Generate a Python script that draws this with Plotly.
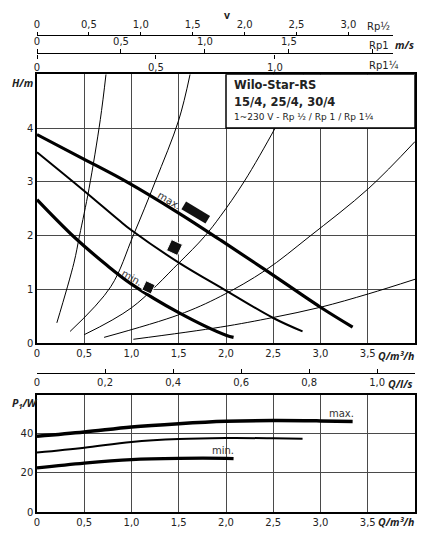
### Curvas características Wilo-Star-RS (H/Q y P1/Q) ###

import plotly.graph_objects as go

# Curvas de la bomba H(Q): velocidad max., intermedia y min.
q_max = [0, 0.5, 0.95, 1.5, 1.94, 2.42, 3.0, 3.34]
h_max = [3.88, 3.42, 3.0, 2.42, 1.92, 1.36, 0.67, 0.30]
q_mid = [0, 0.5, 0.865, 1.0, 1.5, 2.0, 2.5, 2.81]
h_mid = [3.55, 2.83, 2.29, 2.1, 1.5, 0.98, 0.47, 0.22]
q_min = [0, 0.39, 0.74, 1.0, 1.5, 2.0, 2.08]
h_min = [2.67, 1.98, 1.45, 1.1, 0.57, 0.15, 0.11]

# Curvas de la instalación (líneas finas)
sys1_q = [0.21, 0.39, 0.45, 0.55, 0.67, 0.73]
sys1_h = [0.38, 1.49, 2.0, 2.87, 4.16, 5.0]
sys2_q = [0.35, 0.78, 1.02, 1.25, 1.5, 1.62]
sys2_h = [0.22, 1.05, 2.01, 3.0, 4.15, 5.0]
sys3_q = [0.5, 1.0, 1.5, 1.77, 1.94, 2.19, 2.52, 2.82]
sys3_h = [0.16, 0.66, 1.49, 1.98, 2.36, 3.0, 4.0, 5.0]
sys4_q = [0.71, 1.5, 1.94, 2.42, 2.88, 3.51, 4.0]
sys4_h = [0.11, 0.53, 0.87, 1.36, 1.98, 2.88, 3.75]
sys5_q = [1.02, 1.94, 2.5, 3.0, 3.51, 4.0]
sys5_h = [0.074, 0.30, 0.48, 0.67, 0.92, 1.19]

# Marcas del selector de velocidad (max., intermedia, min.)
sel_q = [1.68, 1.455, 1.18]
sel_h = [2.43, 1.78, 1.04]

# Potencia absorbida P1(Q)
p_max_q = [0, 0.5, 1.0, 1.5, 2.0, 2.5, 3.0, 3.34]
p_max = [38.8, 41.0, 43.6, 45.3, 46.5, 46.9, 46.7, 46.4]
p_mid_q = [0, 0.5, 1.0, 1.5, 2.0, 2.5, 2.81]
p_mid = [30.5, 33.0, 35.9, 37.4, 37.9, 37.8, 37.6]
p_min_q = [0, 0.5, 1.0, 1.5, 2.0, 2.08]
p_min = [22.6, 25.1, 26.9, 27.5, 27.5, 27.4]

# Ejes y etiquetas
q_ticks = [0, 0.5, 1.0, 1.5, 2.0, 2.5, 3.0, 3.5]
q_labels = ["0", "0,5", "1,0", "1,5", "2,0", "2,5", "3,0", "3,5"]
h_ticks = [0, 1, 2, 3, 4]
p_ticks = [0, 20, 40]
ls_ticks = [0, 0.2, 0.4, 0.6, 0.8, 1.0]
ls_labels = ["0", "0,2", "0,4", "0,6", "0,8", "1,0"]
v12_ticks = [0, 0.5, 1.0, 1.5, 2.0, 2.5, 3.0]
v12_labels = ["0", "0,5", "1,0", "1,5", "2,0", "2,5", "3,0"]
v1_ticks = [0, 0.5, 1.0, 1.5, 2.0]
v1_labels = ["0", "0,5", "1,0", "1,5", " "]
v114_ticks = [0, 0.5, 1.0]
v114_labels = ["0", "0,5", "1,0"]

FONT = "DejaVu Sans"
UNIT_FONT = "Open Sans"
TXT = "#222222"
GRID = "#4a4a4a"

fig = go.Figure()

# Curvas de la instalación
for qs, hs in [(sys1_q, sys1_h), (sys2_q, sys2_h), (sys3_q, sys3_h),
               (sys4_q, sys4_h), (sys5_q, sys5_h)]:
    fig.add_trace(go.Scatter(x=qs, y=hs, mode="lines", line=dict(color="black", width=1, shape="spline"),
                             xaxis="x", yaxis="y", showlegend=False, hoverinfo="skip"))

# Curvas de la bomba
fig.add_trace(go.Scatter(x=q_max, y=h_max, mode="lines", line=dict(color="black", width=3.2, shape="spline"),
                         xaxis="x", yaxis="y", showlegend=False))
fig.add_trace(go.Scatter(x=q_mid, y=h_mid, mode="lines", line=dict(color="black", width=2, shape="spline"),
                         xaxis="x", yaxis="y", showlegend=False))
fig.add_trace(go.Scatter(x=q_min, y=h_min, mode="lines", line=dict(color="black", width=3.2, shape="spline"),
                         xaxis="x", yaxis="y", showlegend=False))

# Marcas del selector
fig.add_trace(go.Scatter(x=sel_q[:1], y=sel_h[:1], mode="markers",
                         marker=dict(symbol="line-ew", size=20, angle=31, line=dict(color="#111111", width=9)),
                         xaxis="x", yaxis="y", showlegend=False))
fig.add_trace(go.Scatter(x=sel_q[1:], y=sel_h[1:], mode="markers",
                         marker=dict(symbol="square", size=[12, 10], angle=25, color="#111111", opacity=1),
                         xaxis="x", yaxis="y", showlegend=False))

# Potencia
fig.add_trace(go.Scatter(x=p_max_q, y=p_max, mode="lines", line=dict(color="black", width=3.5, shape="spline"),
                         xaxis="x2", yaxis="y2", showlegend=False))
fig.add_trace(go.Scatter(x=p_mid_q, y=p_mid, mode="lines", line=dict(color="black", width=2, shape="spline"),
                         xaxis="x2", yaxis="y2", showlegend=False))
fig.add_trace(go.Scatter(x=p_min_q, y=p_min, mode="lines", line=dict(color="black", width=3.2, shape="spline"),
                         xaxis="x2", yaxis="y2", showlegend=False))

# Trazas vacías para que se dibujen los ejes secundarios (l/s y velocidades)
for xa, ya in [("x3", "y4"), ("x4", "y3"), ("x5", "y5"), ("x6", "y6")]:
    fig.add_trace(go.Scatter(x=[0], y=[0], mode="markers", marker=dict(opacity=0),
                             xaxis=xa, yaxis=ya, showlegend=False, hoverinfo="skip"))

tickfont = dict(family=FONT, size=10, color=TXT)
frame = dict(showline=True, linecolor="black", linewidth=1.5, mirror=True,
             showgrid=True, gridcolor=GRID, gridwidth=1, zeroline=False, ticks="",
             tickfont=tickfont)
extra_x = dict(showgrid=False, zeroline=False, tickcolor="black",
               linecolor="black", linewidth=1, tickfont=tickfont)
dummy_y = dict(range=[0, 1], visible=False, anchor="free", position=0)

# La página añade 8 px de margen, por eso la figura es 8 px más pequeña
fig.update_layout(
    width=421, height=530,
    margin=dict(l=29, r=14, t=2, b=26),
    paper_bgcolor="white", plot_bgcolor="white",
    font=dict(family=FONT, color=TXT),
    xaxis=dict(frame, domain=[0, 1], anchor="y", range=[0, 4], tickvals=q_ticks, ticktext=q_labels),
    yaxis=dict(frame, domain=[0.3361, 0.8719], anchor="x", range=[0, 5], tickvals=h_ticks),
    xaxis2=dict(frame, domain=[0, 1], anchor="y2", range=[0, 4], tickvals=q_ticks, ticktext=q_labels),
    yaxis2=dict(frame, domain=[0, 0.2331], anchor="x2", range=[0, 60], tickvals=p_ticks),
    # ejes y auxiliares (invisibles) donde se apoyan los ejes de l/s y de velocidad
    yaxis3=dict(dummy_y, domain=[0.93, 0.9488]),
    yaxis4=dict(dummy_y, domain=[0.2769, 0.32]),
    yaxis5=dict(dummy_y, domain=[0.89, 0.9118]),
    yaxis6=dict(dummy_y, domain=[0.9118, 0.93]),
    # Caudal en l/s
    xaxis3=dict(extra_x, anchor="y4", domain=[0, 1], range=[0, 4 / 3.6], side="bottom",
                showline=True, ticks="inside", ticklen=4,
                tickvals=ls_ticks, ticktext=ls_labels),
    # Velocidad Rp 1/2
    xaxis4=dict(extra_x, anchor="y3", domain=[0, 0.942], range=[0, 3.43], side="top",
                showline=True, ticks="outside", ticklen=3,
                tickvals=v12_ticks, ticktext=v12_labels),
    # Velocidad Rp 1
    xaxis5=dict(extra_x, anchor="y5", domain=[0, 0.942], range=[0, 2.12], side="top",
                showline=True, ticks="outside", ticklen=4,
                tickvals=v1_ticks, ticktext=v1_labels),
    # Velocidad Rp 1 1/4
    xaxis6=dict(extra_x, anchor="y6", domain=[0, 0.942], range=[0, 1.497], side="bottom",
                showline=False, ticks="outside", ticklen=4,
                tickvals=v114_ticks, ticktext=v114_labels),
)

# Recuadro con el nombre de la bomba
fig.add_shape(type="rect", xref="x", yref="y", x0=2.0, x1=4.0, y0=4.0, y1=5.0,
              fillcolor="white", line=dict(color="black", width=1.5), layer="above")

bold_it = dict(family=UNIT_FONT, size=10.5, color=TXT)
ann = [
    dict(x=2.06, y=4.8, xref="x", yref="y", text="<b>Wilo-Star-RS</b>", xanchor="left",
         font=dict(family=FONT, size=11.5, color=TXT)),
    dict(x=2.06, y=4.48, xref="x", yref="y", text="<b>15/4, 25/4, 30/4</b>", xanchor="left",
         font=dict(family=FONT, size=11.5, color=TXT)),
    dict(x=2.06, y=4.2, xref="x", yref="y", text="1~230 V - Rp ½ / Rp 1 / Rp 1¼", xanchor="left",
         font=dict(family=FONT, size=9, color=TXT)),
    dict(x=1.40, y=2.66, xref="x", yref="y", text="max.", textangle=31, xanchor="center",
         font=dict(family=FONT, size=10, color="#333333")),
    dict(x=1.0, y=1.22, xref="x", yref="y", text="min.", textangle=30, xanchor="center",
         font=dict(family=FONT, size=10, color="#333333")),
    dict(x=3.22, y=50.5, xref="x2", yref="y2", text="max.", xanchor="center",
         font=dict(family=FONT, size=10, color="#333333")),
    dict(x=1.97, y=31.3, xref="x2", yref="y2", text="min.", xanchor="center",
         font=dict(family=FONT, size=10, color="#333333")),
    dict(x=-0.071, y=0.8546, xref="paper", yref="paper", text="<b><i>H/m</i></b>", xanchor="left", font=bold_it),
    dict(x=-0.071, y=0.2171, xref="paper", yref="paper", text="<b><i>P<sub>1</sub>/W</i></b>", xanchor="left",
         font=bold_it),
    dict(x=1.003, y=0.3108, xref="paper", yref="paper", text="<b><i>Q/m³/h</i></b>", xanchor="right", font=bold_it),
    dict(x=1.003, y=-0.0209, xref="paper", yref="paper", text="<b><i>Q/m³/h</i></b>", xanchor="right", font=bold_it),
    dict(x=1.0, y=0.255, xref="paper", yref="paper", text="<b><i>Q/l/s</i></b>", xanchor="right", font=bold_it),
    dict(x=0.502, y=0.990, xref="paper", yref="paper", text="<b>v</b>", xanchor="center", font=bold_it),
    dict(x=0.868, y=0.9667, xref="paper", yref="paper", text="Rp½", xanchor="left", font=tickfont),
    dict(x=0.873, y=0.930, xref="paper", yref="paper", text="Rp1", xanchor="left", font=tickfont),
    dict(x=0.942, y=0.930, xref="paper", yref="paper", text="<b><i>m/s</i></b>", xanchor="left", font=bold_it),
    dict(x=0.873, y=0.8904, xref="paper", yref="paper", text="Rp1¼", xanchor="left", font=tickfont),
]
for a in ann:
    fig.add_annotation(showarrow=False, yanchor="middle", **a)

fig.write_html("out.html")
